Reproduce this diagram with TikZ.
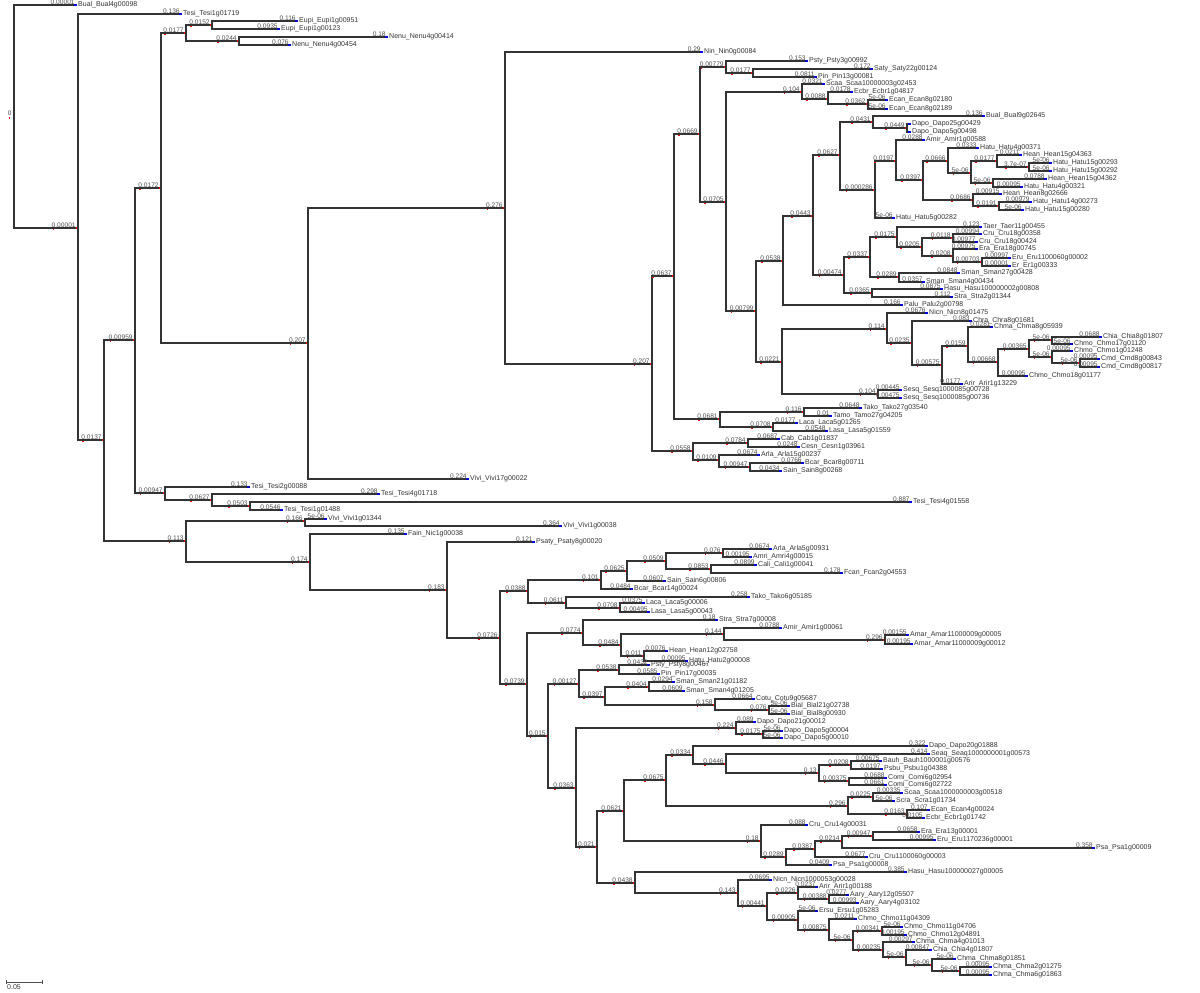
\documentclass[tikz,border=0pt]{standalone}
\usepackage{fontspec}
\newfontfamily\treefont{Liberation Sans}
\newcommand{\lbl}{\treefont\fontsize{3.5}{4}\selectfont}
\newcommand{\lensize}{\treefont\fontsize{3.3}{4}\selectfont}
\tikzset{branch/.style={draw=black!80, line width=0.6pt},
blen/.style={anchor=south east, inner sep=0pt, outer sep=0pt, font=\lensize, text=black!70, xshift=-1.2pt, yshift=0.25pt},
taxon/.style={anchor=west, inner sep=0pt, outer sep=0pt, font=\lbl, text=black!80, xshift=0.6pt}}
% inner node: name, parent, x, y, branch length
\newcommand{\cladept}[5]{%
\coordinate (#1) at (#3,#4);
\draw[branch] (#2) |- (#1);
\node[blen] (#1l) at (#1) {#5};
\fill[red] (#1) ++(-1.6,-0.6) rectangle ++(1.6,1.4);
\fill[red] (#1l.south west) ++(1,1.2) rectangle ++(1.4,1.4);}
% leaf: name, parent, x, y, branch length, taxon
\newcommand{\tippt}[6]{%
\coordinate (#1) at (#3,#4);
\draw[branch] (#2) |- (#1);
\node[blen] at (#1) {#5};
\fill[blue!85!black] (#1) ++(-3,-0.7) rectangle ++(3,1.4);
\node[taxon] at (#1) {#6};}

\begin{document}
\begin{tikzpicture}[x=0.5pt, y=-0.5pt]
\useasboundingbox (0,0) rectangle (1200,992);
\coordinate (root) at (14,116.5);
\node[blen] (rootl) at (root) {0};
\fill[red] (rootl.south west) ++(1,1.2) rectangle ++(1.4,1.4);
\tippt{t1}{root}{77}{5}{0.00001}{Bual\_Bual4g00098}
\cladept{c1}{root}{78}{228}{0.00001}
\tippt{t2}{c1}{182}{14}{0.136}{Tesi\_Tesi1g01719}
\cladept{c2}{c1}{104}{440}{0.0137}
\cladept{c3}{c2}{135}{340}{0.00959}
\cladept{c4}{c3}{161}{188}{0.0172}
\cladept{c5}{c4}{186}{33}{0.0177}
\cladept{c6}{c5}{212}{25}{0.0152}
\tippt{t3}{c6}{298}{21}{0.116}{Eupi\_Eupi1g00951}
\tippt{t4}{c6}{280}{29}{0.0935}{Eupi\_Eupi1g00123}
\cladept{c7}{c5}{239}{41}{0.0244}
\tippt{t5}{c7}{388}{37}{0.18}{Nenu\_Nenu4g00414}
\tippt{t6}{c7}{291}{45}{0.076}{Nenu\_Nenu4g00454}
\cladept{c8}{c4}{308}{343}{0.207}
\cladept{c9}{c8}{505}{208}{0.276}
\tippt{t7}{c9}{703}{52}{0.29}{Nin\_Nin0g00084}
\cladept{c10}{c9}{652}{364}{0.207}
\cladept{c11}{c10}{674}{276}{0.0637}
\cladept{c12}{c11}{700}{134}{0.0669}
\cladept{c13}{c12}{726}{67}{0.00779}
\tippt{t8}{c13}{808}{61}{0.153}{Psty\_Psty3g00992}
\cladept{c14}{c13}{753}{73}{0.0177}
\tippt{t9}{c14}{873}{69}{0.172}{Saty\_Saty22g00124}
\tippt{t10}{c14}{817}{77}{0.0811}{Pin\_Pin13g00081}
\cladept{c15}{c12}{726}{202}{0.0705}
\cladept{c16}{c15}{802}{92}{0.104}
\tippt{t11}{c16}{825}{84}{0.0321}{Scaa\_Scaa10000003g02453}
\cladept{c17}{c16}{828}{99}{0.0088}
\tippt{t12}{c17}{853}{92}{0.0178}{Ecbr\_Ecbr1g04817}
\cladept{c18}{c17}{868}{104}{0.0362}
\tippt{t13}{c18}{888}{100}{5e-06}{Ecan\_Ecan8g02180}
\tippt{t14}{c18}{888}{109}{5e-06}{Ecan\_Ecan8g02189}
\cladept{c19}{c15}{756}{311}{0.00799}
\cladept{c20}{c19}{783}{261}{0.0538}
\cladept{c21}{c20}{813}{216}{0.0443}
\cladept{c22}{c21}{840}{155}{0.0627}
\cladept{c23}{c22}{873}{122}{0.0431}
\tippt{t15}{c23}{985}{116}{0.136}{Bual\_Bual9g02645}
\cladept{c24}{c23}{907}{128}{0.0449}
\tippt{t16}{c24}{911}{124}{}{Dapo\_Dapo25g00429}
\tippt{t17}{c24}{911}{132}{}{Dapo\_Dapo5g00498}
\cladept{c25}{c22}{875}{190}{0.000286}
\cladept{c26}{c25}{896}{161}{0.0197}
\tippt{t18}{c26}{925}{140}{0.0288}{Amir\_Amir1g00588}
\cladept{c27}{c26}{923}{180}{0.0397}
\cladept{c28}{c27}{948}{161}{0.0666}
\tippt{t19}{c28}{979}{148}{0.0333}{Hatu\_Hatu4g00371}
\cladept{c29}{c28}{971}{173}{5e-06}
\cladept{c30}{c29}{997}{161}{0.0177}
\tippt{t20}{c30}{1022}{155}{0.0211}{Hean\_Hean15g04363}
\cladept{c31}{c30}{1029}{167}{3.7e-07}
\tippt{t21}{c31}{1052}{163}{5e-06}{Hatu\_Hatu15g00293}
\tippt{t22}{c31}{1052}{171}{5e-06}{Hatu\_Hatu15g00292}
\cladept{c32}{c29}{993}{183}{5e-06}
\tippt{t23}{c32}{1047}{179}{0.0788}{Hean\_Hean15g04362}
\tippt{t24}{c32}{1023}{187}{0.00095}{Hatu\_Hatu4g00321}
\cladept{c33}{c27}{973}{200}{0.0686}
\tippt{t25}{c33}{1002}{194}{0.00915}{Hean\_Hean8g02666}
\cladept{c34}{c33}{999}{206}{0.0191}
\tippt{t26}{c34}{1032}{202}{0.00979}{Hatu\_Hatu14g00273}
\tippt{t27}{c34}{1024}{210}{5e-06}{Hatu\_Hatu15g00280}
\tippt{t28}{c25}{895}{218}{5e-06}{Hatu\_Hatu5g00282}
\cladept{c35}{c21}{844}{275}{0.00474}
\cladept{c36}{c35}{870}{257}{0.0337}
\cladept{c37}{c36}{897}{237}{0.0175}
\tippt{t29}{c37}{982}{227}{0.123}{Taer\_Taer11g00455}
\cladept{c38}{c37}{922}{247}{0.0205}
\cladept{c39}{c38}{953}{238}{0.0118}
\tippt{t30}{c39}{982}{234}{0.00994}{Cru\_Cru18g00358}
\tippt{t31}{c39}{978}{242}{0.00977}{Cru\_Cru18g00424}
\cladept{c40}{c38}{953}{256}{0.0208}
\tippt{t32}{c40}{978}{249}{0.00975}{Era\_Era18g00745}
\cladept{c41}{c40}{982}{262}{0.00703}
\tippt{t33}{c41}{1011}{258}{0.00997}{Eru\_Eru1100060g00002}
\tippt{t34}{c41}{1011}{266}{0.00001}{Er\_Er1g00333}
\cladept{c42}{c36}{899}{277}{0.0289}
\tippt{t35}{c42}{960}{273}{0.0848}{Sman\_Sman27g00428}
\tippt{t36}{c42}{925}{282}{0.0357}{Sman\_Sman4g00434}
\cladept{c43}{c35}{872}{293}{0.0365}
\tippt{t37}{c43}{943}{289}{0.0875}{Hasu\_Hasu100000002g00808}
\tippt{t38}{c43}{953}{297}{0.112}{Stra\_Stra2g01344}
\tippt{t39}{c20}{903}{305}{0.166}{Palu\_Palu2g00798}
\cladept{c44}{c19}{782}{362}{0.0221}
\cladept{c45}{c44}{887}{329}{0.114}
\tippt{t40}{c45}{928}{313}{0.0676}{Nicn\_Nicn8g01475}
\cladept{c46}{c45}{912}{343}{0.0235}
\tippt{t41}{c46}{972}{321}{0.083}{Chra\_Chra8g01681}
\cladept{c47}{c46}{942}{365}{0.00575}
\cladept{c48}{c47}{968}{346}{0.0159}
\tippt{t42}{c48}{993}{327}{0.0281}{Chma\_Chma8g05939}
\cladept{c49}{c48}{998}{362}{0.00668}
\cladept{c50}{c49}{1029}{349}{0.00365}
\cladept{c51}{c50}{1052}{340}{5e-06}
\tippt{t43}{c51}{1102}{337}{0.0688}{Chia\_Chia8g01807}
\tippt{t44}{c51}{1073}{344}{5e-06}{Chmo\_Chmo17g01120}
\cladept{c52}{c50}{1052}{357}{5e-06}
\tippt{t45}{c52}{1073}{351}{0.00095}{Chmo\_Chmo1g01248}
\cladept{c53}{c52}{1080}{363}{5e-06}
\tippt{t46}{c53}{1100}{359}{0.00095}{Cmd\_Cmd8g00843}
\tippt{t47}{c53}{1100}{367}{0.00095}{Cmd\_Cmd8g00817}
\tippt{t48}{c49}{1028}{376}{0.00095}{Chmo\_Chmo18g01177}
\tippt{t49}{c47}{963}{384}{0.0177}{Arir\_Arir1g13229}
\cladept{c54}{c44}{878}{394}{0.104}
\tippt{t50}{c54}{902}{390}{0.00445}{Sesq\_Sesq1000085g00728}
\tippt{t51}{c54}{902}{398}{0.00475}{Sesq\_Sesq1000085g00736}
\cladept{c55}{c11}{720}{419}{0.0681}
\cladept{c56}{c55}{804}{412}{0.116}
\tippt{t52}{c56}{862}{408}{0.0648}{Tako\_Tako27g03540}
\tippt{t53}{c56}{832}{416}{0.01}{Tamo\_Tamo27g04205}
\cladept{c57}{c55}{773}{427}{0.0708}
\tippt{t54}{c57}{798}{423}{0.0177}{Laca\_Laca5g01265}
\tippt{t55}{c57}{828}{431}{0.0548}{Lasa\_Lasa5g01559}
\cladept{c58}{c10}{693}{451}{0.0558}
\cladept{c59}{c58}{748}{443}{0.0784}
\tippt{t56}{c59}{780}{439}{0.0687}{Cab\_Cab1g01837}
\tippt{t57}{c59}{800}{447}{0.0248}{Cesn\_Cesn1g03961}
\cladept{c60}{c58}{719}{460}{0.0109}
\tippt{t58}{c60}{760}{455}{0.0674}{Arla\_Arla15g00237}
\cladept{c61}{c60}{750}{467}{0.00947}
\tippt{t59}{c61}{804}{463}{0.0766}{Bcar\_Bcar8g00711}
\tippt{t60}{c61}{782}{471}{0.0434}{Sain\_Sain8g00268}
\tippt{t61}{c8}{469}{479}{0.224}{Vivi\_Vivi17g00022}
\cladept{c62}{c3}{165}{493}{0.00947}
\tippt{t62}{c62}{250}{487}{0.133}{Tesi\_Tesi2g00088}
\cladept{c63}{c62}{212}{500}{0.0627}
\tippt{t63}{c63}{380}{494}{0.298}{Tesi\_Tesi4g01718}
\cladept{c64}{c63}{250}{506}{0.0503}
\tippt{t64}{c64}{912}{502}{0.887}{Tesi\_Tesi4g01558}
\tippt{t65}{c64}{283}{510}{0.0546}{Tesi\_Tesi1g01488}
\cladept{c65}{c2}{186}{541}{0.113}
\cladept{c66}{c65}{305}{521}{0.166}
\tippt{t66}{c66}{327}{519}{5e-06}{Vivi\_Vivi1g01344}
\tippt{t67}{c66}{562}{526}{0.364}{Vivi\_Vivi1g00038}
\cladept{c67}{c65}{310}{562}{0.174}
\tippt{t68}{c67}{407}{534}{0.135}{Fain\_Nic1g00038}
\cladept{c68}{c67}{447}{590}{0.183}
\tippt{t69}{c68}{535}{542}{0.121}{Psaty\_Psaty8g00020}
\cladept{c69}{c68}{500}{638}{0.0726}
\cladept{c70}{c69}{528}{591}{0.0388}
\cladept{c71}{c70}{601}{580}{0.101}
\cladept{c72}{c71}{627}{571}{0.0625}
\cladept{c73}{c72}{666}{561}{0.0509}
\cladept{c74}{c73}{723}{553}{0.076}
\tippt{t70}{c74}{772}{549}{0.0674}{Arla\_Arla5g00931}
\tippt{t71}{c74}{752}{557}{0.00195}{Amri\_Amri4g00015}
\cladept{c75}{c73}{711}{569}{0.0853}
\tippt{t72}{c75}{757}{565}{0.0899}{Cali\_Cali1g00041}
\tippt{t73}{c75}{843}{573}{0.178}{Fcan\_Fcan2g04553}
\tippt{t74}{c72}{666}{581}{0.0607}{Sain\_Sain6g00806}
\tippt{t75}{c71}{633}{589}{0.0484}{Bcar\_Bcar14g00024}
\cladept{c76}{c70}{566}{603}{0.0611}
\tippt{t76}{c76}{750}{597}{0.258}{Tako\_Tako6g05185}
\cladept{c77}{c76}{620}{608}{0.0708}
\tippt{t77}{c77}{645}{603}{0.0375}{Laca\_Laca5g00006}
\tippt{t78}{c77}{650}{612}{0.00495}{Lasa\_Lasa5g00043}
\cladept{c78}{c69}{527}{684}{0.0739}
\cladept{c79}{c78}{583}{633}{0.0774}
\tippt{t79}{c79}{718}{620}{0.18}{Stra\_Stra7g00008}
\cladept{c80}{c79}{621}{645}{0.0484}
\cladept{c81}{c80}{724}{634}{0.144}
\tippt{t80}{c81}{782}{628}{0.0788}{Amir\_Amir1g00061}
\cladept{c82}{c81}{885}{640}{0.296}
\tippt{t81}{c82}{909}{635}{0.00155}{Amar\_Amar11000009g00005}
\tippt{t82}{c82}{913}{644}{0.00195}{Amar\_Amar11000009g00012}
\cladept{c83}{c80}{644}{656}{0.011}
\tippt{t83}{c83}{668}{651}{0.0076}{Hean\_Hean12g02758}
\tippt{t84}{c83}{688}{661}{0.00095}{Hatu\_Hatu2g00008}
\cladept{c84}{c78}{548}{736}{0.015}
\cladept{c85}{c84}{579}{684}{0.00127}
\cladept{c86}{c85}{619}{670}{0.0538}
\tippt{t85}{c86}{650}{665}{0.0432}{Psty\_Psty8g00467}
\tippt{t86}{c86}{660}{674}{0.0585}{Pin\_Pin17g00035}
\cladept{c87}{c85}{605}{697}{0.0397}
\cladept{c88}{c87}{649}{687}{0.0404}
\tippt{t87}{c88}{675}{682}{0.0294}{Sman\_Sman21g01182}
\tippt{t88}{c88}{685}{691}{0.0609}{Sman\_Sman4g01205}
\cladept{c89}{c87}{715}{705}{0.158}
\tippt{t89}{c89}{755}{699}{0.0664}{Cotu\_Cotu9g05687}
\cladept{c90}{c89}{769}{710}{0.076}
\tippt{t90}{c90}{790}{706}{5e-06}{Bial\_Bial21g02738}
\tippt{t91}{c90}{790}{714}{5e-06}{Bial\_Bial8g00930}
\cladept{c91}{c84}{576}{788}{0.0363}
\cladept{c92}{c91}{736}{728}{0.224}
\tippt{t92}{c92}{756}{722}{0.089}{Dapo\_Dapo21g00012}
\cladept{c93}{c92}{763}{734}{0.0175}
\tippt{t93}{c93}{783}{731}{5e-06}{Dapo\_Dapo5g00004}
\tippt{t94}{c93}{783}{738}{5e-06}{Dapo\_Dapo5g00010}
\cladept{c94}{c91}{597}{847}{0.021}
\cladept{c95}{c94}{624}{811}{0.0621}
\cladept{c96}{c95}{666}{780}{0.0675}
\cladept{c97}{c96}{693}{755}{0.0334}
\tippt{t95}{c97}{928}{746}{0.322}{Dapo\_Dapo20g01888}
\cladept{c98}{c97}{726}{764}{0.0446}
\tippt{t96}{c98}{930}{754}{0.414}{Seaq\_Seaq1000000001g00573}
\cladept{c99}{c98}{819}{773}{0.13}
\cladept{c100}{c99}{851}{765}{0.0208}
\tippt{t97}{c100}{882}{761}{0.00675}{Bauh\_Bauh1000001g00576}
\tippt{t98}{c100}{883}{769}{0.0197}{Psbu\_Psbu1g04388}
\cladept{c101}{c99}{849}{781}{0.00375}
\tippt{t99}{c101}{887}{778}{0.0688}{Comi\_Comi6g02954}
\tippt{t100}{c101}{887}{785}{0.0661}{Comi\_Comi6g02722}
\cladept{c102}{c96}{848}{806}{0.296}
\cladept{c103}{c102}{873}{797}{0.0225}
\tippt{t101}{c103}{903}{793}{0.00335}{Scaa\_Scaa1000000003g00518}
\tippt{t102}{c103}{895}{801}{5e-06}{Scra\_Scra1g01734}
\cladept{c104}{c102}{907}{814}{0.0163}
\tippt{t103}{c104}{930}{810}{0.107}{Ecan\_Ecan4g00024}
\tippt{t104}{c104}{925}{818}{0.0105}{Ecbr\_Ecbr1g01742}
\cladept{c105}{c95}{761}{841}{0.18}
\tippt{t105}{c105}{808}{825}{0.088}{Cru\_Cru14g00031}
\cladept{c106}{c105}{786}{857}{0.0289}
\cladept{c107}{c106}{815}{849}{0.0387}
\cladept{c108}{c107}{842}{841}{0.0214}
\cladept{c109}{c108}{873}{836}{0.00947}
\tippt{t106}{c109}{920}{832}{0.0658}{Era\_Era13g00001}
\tippt{t107}{c109}{936}{840}{0.00995}{Eru\_Eru1170236g00001}
\tippt{t108}{c108}{1095}{848}{0.358}{Psa\_Psa1g00009}
\tippt{t109}{c107}{868}{857}{0.0677}{Cru\_Cru1100060g00003}
\tippt{t110}{c106}{832}{865}{0.0409}{Psa\_Psa1g00008}
\cladept{c110}{c94}{635}{883}{0.0438}
\tippt{t111}{c110}{907}{872}{0.385}{Hasu\_Hasu100000027g00005}
\cladept{c111}{c110}{738}{893}{0.143}
\tippt{t112}{c111}{772}{880}{0.0695}{Nicn\_Nicn1000053g00028}
\cladept{c112}{c111}{767}{906}{0.00441}
\cladept{c113}{c112}{798}{893}{0.0226}
\tippt{t113}{c113}{818}{887}{0.0237}{Arir\_Arir1g00188}
\cladept{c114}{c113}{829}{899}{0.00388}
\tippt{t114}{c114}{849}{895}{0.0277}{Aary\_Aary12g05507}
\tippt{t115}{c114}{859}{903}{0.00993}{Aary\_Aary4g03102}
\cladept{c115}{c112}{798}{920}{0.00905}
\tippt{t116}{c115}{818}{911}{5e-06}{Ersu\_Ersu1g05283}
\cladept{c116}{c115}{829}{930}{0.00875}
\tippt{t117}{c116}{857}{919}{0.0211}{Chmo\_Chmo11g04309}
\cladept{c117}{c116}{853}{940}{5e-06}
\cladept{c118}{c117}{882}{931}{0.00341}
\tippt{t118}{c118}{903}{927}{5e-06}{Chmo\_Chmo11g04706}
\tippt{t119}{c118}{907}{935}{0.00195}{Chmo\_Chmo12g04891}
\cladept{c119}{c117}{883}{950}{0.00235}
\tippt{t120}{c119}{915}{942}{0.00297}{Chma\_Chma4g01013}
\cladept{c120}{c119}{906}{957}{5e-06}
\tippt{t121}{c120}{932}{950}{0.00847}{Chia\_Chia4g01807}
\cladept{c121}{c120}{932}{965}{5e-06}
\tippt{t122}{c121}{956}{959}{5e-06}{Chma\_Chma8g01851}
\cladept{c122}{c121}{960}{971}{5e-06}
\tippt{t123}{c122}{992}{967}{0.00095}{Chma\_Chma2g01275}
\tippt{t124}{c122}{992}{975}{0.00095}{Chma\_Chma6g01863}
% scale bar
\draw[black!70, line width=0.5pt] (6,982) -- (42,982);
\draw[black!70, line width=0.5pt] (6,980) -- (6,984) (42,980) -- (42,984);
\node[taxon, anchor=west] at (6,987) {0.05};
\end{tikzpicture}
\end{document}
